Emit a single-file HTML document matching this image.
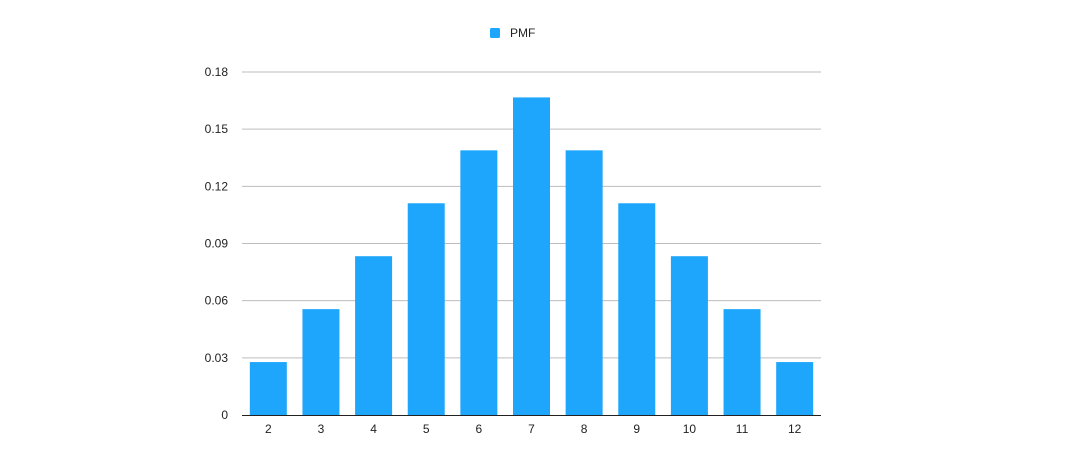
<!DOCTYPE html>
<html><head><meta charset="utf-8"><style>
body{margin:0;background:#fff;width:1070px;height:464px;overflow:hidden}
svg{display:block;font-family:"Liberation Sans",Helvetica,sans-serif}
</style></head><body>
<svg id="c" width="1070" height="464">
<g>
<rect x="490" y="28" width="10" height="10" rx="1.5" fill="#1ea5fc"/>
<text x="510" y="37" font-size="12" fill="#222">PMF</text>
</g>
</svg>
<script>
const categories=["2","3","4","5","6","7","8","9","10","11","12"];
const pmfValues=[1/36,2/36,3/36,4/36,5/36,6/36,5/36,4/36,3/36,2/36,1/36];
const yTicks=[0,0.03,0.06,0.09,0.12,0.15,0.18];
const yTickLabels=["0","0.03","0.06","0.09","0.12","0.15","0.18"];
const svg=document.getElementById('c');const NS="http://www.w3.org/2000/svg";
const L=242,R=821,T=72,B=415,yMax=0.18;
const y=v=>B-(v/yMax)*(B-T);
const step=(R-L)/categories.length;
const x=i=>L+step*i+step/2;
function mk(t,a){const e=document.createElementNS(NS,t);for(const k in a)e.setAttribute(k,a[k]);svg.appendChild(e);return e;}
yTicks.forEach((t,i)=>{
 if(t>0){const g=mk('line',{x1:L,x2:R,y1:y(t),y2:y(t),stroke:'#bdbdbd','stroke-width':1});
 
 }
 const l=mk('text',{x:228,y:y(t)+4,'text-anchor':'end','font-size':12,fill:'#222'});
 
 
 l.textContent=yTickLabels[i];
});
const bw=37;
categories.forEach((c,i)=>{
 const b=mk('rect',{x:x(i)-bw/2,y:y(pmfValues[i]),width:bw,height:B-y(pmfValues[i]),fill:'#1ea5fc'});
 
 
 const l=mk('text',{x:x(i),y:433,'text-anchor':'middle','font-size':12,fill:'#222'});
 
 
 l.textContent=c;
});
const ax=mk('line',{x1:L,x2:R,y1:B+0.5,y2:B+0.5,stroke:'#222','stroke-width':1});


</script>
</body></html>
